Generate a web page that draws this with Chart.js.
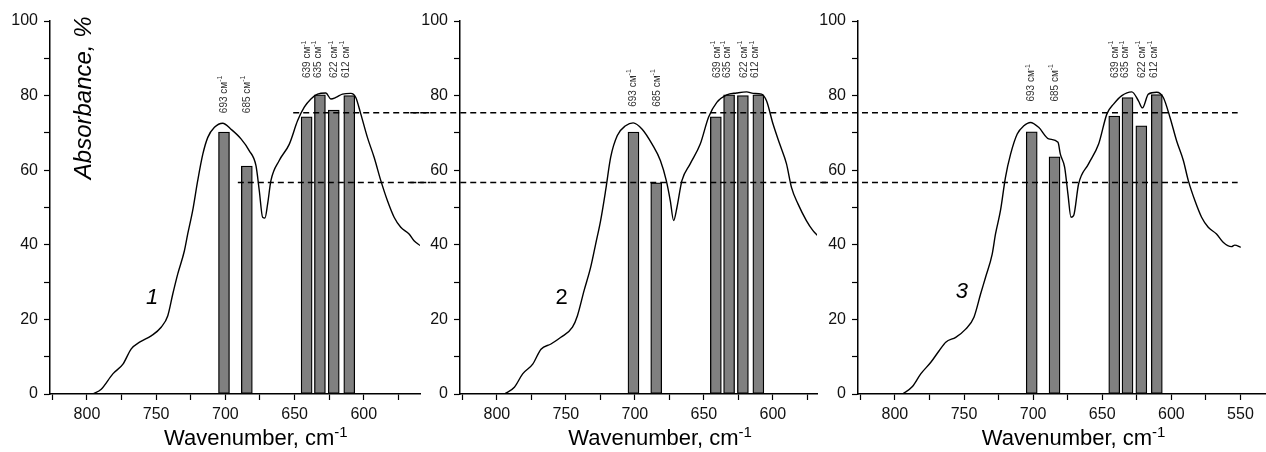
<!DOCTYPE html>
<html>
<head>
<meta charset="utf-8">
<script src="https://cdn.jsdelivr.net/npm/chart.js@4.4.1/dist/chart.umd.min.js"></script>
<style>
  body { margin: 0; background: #fff; }
  #wrap { position: relative; width: 1266px; height: 452px; overflow: hidden; }
  canvas { position: absolute; top: 0; }
</style>
</head>
<body>
<div id="wrap">
  <canvas id="c1" width="430" height="452" style="left:0"></canvas>
  <canvas id="c2" width="420" height="452" style="left:410px"></canvas>
  <canvas id="c3" width="446" height="452" style="left:820px"></canvas>
</div>
<script>
// spectra, wavenumber (cm-1) and absorbance (%)
const wn1 = [795.7, 789.7, 781.3, 774, 768, 762, 753.6, 746.4, 741.6, 738, 734.4, 729.6, 727.2, 723.6, 720, 716.3, 712.7, 707.9, 701.9, 696, 688.7, 682.7, 677.9, 675.5, 673.1, 671.4, 669.5, 667.1, 661.1, 653.8, 647.8, 643, 638.2, 633.4, 627.4, 623.8, 620.2, 615.4, 609.4, 605.8, 602.2, 597.4, 592.5, 587.7, 582.9, 578.1, 573.3, 567.3, 563.7, 559.4];
const abs1 = [0, 1.3, 5.4, 8.0, 12.1, 13.9, 15.6, 17.9, 21, 26.8, 32.2, 38.4, 42.9, 49.2, 57.2, 64.3, 68.8, 71.5, 72.6, 71.0, 68.4, 65.2, 61.2, 54.5, 47.4, 47.2, 50.9, 57.2, 62.6, 67.0, 73.3, 76.9, 79.1, 80.4, 80.7, 79.1, 79.5, 80.4, 80.6, 79.5, 75.1, 68.8, 63.4, 57.2, 51.8, 47.4, 44.7, 42.9, 41.1, 39.8];

const wn2 = [794.5, 787.3, 781.3, 774, 768, 760.8, 753.6, 745.2, 741.6, 736.8, 732, 728.4, 724.8, 721.2, 717.5, 712.7, 706.7, 701.2, 694.7, 687.5, 681.5, 677.2, 674.3, 671.9, 669.5, 665.9, 659.9, 652.6, 646.6, 640.6, 633.4, 626.2, 619, 614.2, 608.2, 604.6, 599.8, 595, 590.1, 586.5, 581.7, 575.7, 570.9, 567.3];
const abs2 = [0, 1.8, 5.4, 8, 12, 13.4, 15.2, 17.9, 21, 27.7, 34, 40.2, 46.5, 54.5, 63.5, 69.3, 71.9, 72.7, 71, 67, 62.6, 57.2, 51.8, 46.5, 50, 57.2, 61.7, 67, 74.2, 78.2, 80.2, 80.7, 81, 80.6, 80.4, 78.6, 72.3, 67, 61.7, 55.4, 50.9, 46.5, 43.8, 42.4];

const wn3 = [794.5, 787.3, 781.3, 774, 768, 763.2, 756, 748.8, 742.8, 738, 734.4, 729.6, 727.2, 723.6, 720, 716.3, 711.5, 706.7, 701.9, 696, 688.7, 682, 680.3, 677.2, 674.8, 672.6, 670.7, 667.1, 659.9, 652.6, 646.6, 641.8, 635.8, 628.6, 623.8, 620.9, 616.6, 610.6, 605.8, 601, 596.2, 591.3, 587.7, 582.9, 578.1, 573.3, 567.3, 562.5, 556.5, 554.1, 549.8];
const abs3 = [0, 2, 5.4, 8.5, 11.6, 13.9, 15.2, 17.4, 20.6, 26.8, 31.3, 37.5, 42.9, 49.2, 58.1, 64.3, 69.7, 71.9, 72.8, 71.5, 68.4, 67.5, 64.3, 60.8, 53.6, 47.4, 47.8, 56.3, 61.7, 67, 75.1, 77.7, 80, 81, 78.6, 76.7, 80.4, 80.9, 79.5, 74.2, 67.9, 62.6, 57.2, 51.8, 47.4, 44.7, 42.9, 40.7, 39.5, 39.9, 39.3];

// bars
const barPos = [701, 684.5, 641.3, 631.7, 621.7, 610.5];
const bars1 = [70.2, 61.1, 74.3, 80.2, 76.1, 80.0];
const bars2 = [70.2, 56.6, 74.3, 80.2, 80.0, 80.2];
const bars3 = [70.3, 63.6, 74.5, 79.5, 71.9, 80.3];

// peak labels
const peakNames = ['693', '685', '639', '635', '622', '612'];
const peakLabelPos = [701, 684, 640.5, 633, 621, 612.5];

// dashed reference levels
const levels = [75.4, 56.7];
const dashStart1 = [651, 691];

const xTickValues = [825, 800, 775, 750, 725, 700, 675, 650, 625, 600, 575, 550];
const yTickValues = [0, 10, 20, 30, 40, 50, 60, 70, 80, 90, 100];

const FONT = '"Liberation Sans", Arial, sans-serif';

const notesPlugin = {
  id: 'notes',
  afterDatasetsDraw(chart, args, opts) {
    const { ctx } = chart;
    const x = chart.scales.x, y = chart.scales.y;
    (opts.items || []).forEach(t => {
      ctx.save();
      ctx.translate(x.getPixelForValue(t.x), y.getPixelForValue(t.y));
      if (t.rotate) ctx.rotate(t.rotate);
      ctx.fillStyle = t.color || '#000';
      ctx.textBaseline = t.baseline || 'middle';
      ctx.textAlign = 'left';
      ctx.font = t.font;
      const w = ctx.measureText(t.text).width;
      let sw = 0;
      if (t.sup) {
        ctx.font = t.supFont;
        sw = ctx.measureText(t.sup).width;
      }
      const start = t.align === 'left' ? 0 : -(w + sw) / 2;
      ctx.font = t.font;
      ctx.fillText(t.text, start, 0);
      if (t.sup) {
        ctx.font = t.supFont;
        ctx.fillText(t.sup, start + w, -t.supRaise);
      }
      ctx.restore();
    });
  }
};

function pts(xs, ys) {
  return xs.map((v, i) => ({ x: v, y: ys[i] }));
}

function peakLabels(lowY, highY) {
  return peakNames.map((n, i) => ({
    x: peakLabelPos[i], y: i < 2 ? lowY : highY,
    text: n + ' см', sup: '-1',
    font: '10px ' + FONT, supFont: '7px ' + FONT, supRaise: 4,
    align: 'left', rotate: -Math.PI / 2, color: '#333'
  }));
}

function makePanel(id, o) {
  const dashSets = levels.map((lv, i) => ({
    type: 'line',
    data: [{ x: o.dashFrom[i], y: lv }, { x: o.dashTo, y: lv }],
    borderColor: '#000', borderWidth: 1.4, borderDash: [6, 4],
    pointRadius: 0, clip: false, order: 0
  }));

  new Chart(document.getElementById(id), {
    type: 'line',
    data: {
      datasets: [
        ...dashSets,
        {
          type: 'line', data: pts(o.wn, o.abs),
          borderColor: '#000', borderWidth: 1.4, pointRadius: 0,
          cubicInterpolationMode: 'monotone', order: 1
        },
        {
          type: 'bar', data: pts(barPos, o.bars),
          backgroundColor: '#808080', borderColor: '#000', borderWidth: 1.3,
          borderSkipped: false, barThickness: 11, order: 2
        }
      ]
    },
    options: {
      responsive: false,
      animation: false,
      events: [],
      layout: { padding: { top: 21, right: o.padRight, left: 0, bottom: 0 } },
      scales: {
        x: {
          type: 'linear', reverse: true, min: o.xMin, max: 826.7, offset: false,
          afterBuildTicks: s => {
            s.ticks = xTickValues.filter(v => v >= s.min && v <= s.max).map(v => ({ value: v }));
          },
          afterFit: s => { s.height = 58; },
          ticks: {
            autoSkip: false, maxRotation: 0, padding: 5, color: '#111',
            font: { family: FONT, size: 16 },
            callback: v => (v % 50 === 0 ? v : '')
          },
          grid: { drawOnChartArea: false, offset: false, color: '#000', tickLength: 6, tickWidth: 1.2 },
          border: { color: '#000', width: 1.5 }
        },
        y: {
          min: 0, max: 100,
          afterBuildTicks: s => { s.ticks = yTickValues.map(v => ({ value: v })); },
          afterFit: s => { s.width = o.yWidth; },
          ticks: {
            autoSkip: false, padding: 6, color: '#111',
            font: { family: FONT, size: 16 },
            callback: v => (v % 20 === 0 ? v : '')
          },
          grid: { drawOnChartArea: false, color: '#000', tickLength: 6, tickWidth: 1.2 },
          border: { color: '#000', width: 1.5 }
        }
      },
      plugins: {
        legend: { display: false },
        tooltip: { enabled: false },
        notes: { items: o.notes }
      }
    },
    plugins: [notesPlugin]
  });
}

const titleFont = '22px ' + FONT;
function xTitle(x) {
  return { x: x, y: -13.8, text: 'Wavenumber, cm', sup: '-1', font: titleFont,
           supFont: '15px ' + FONT, supRaise: 8, baseline: 'alphabetic', color: '#000' };
}

makePanel('c1', {
  wn: wn1, abs: abs1, bars: bars1, xMin: 559.4, padRight: 10, yWidth: 50,
  dashFrom: dashStart1, dashTo: 540,
  notes: [
    { x: 802.2, y: 79.4, text: 'Absorbance, %', font: 'italic 24px ' + FONT, rotate: -Math.PI / 2 },
    { x: 753, y: 25.7, text: '1', font: 'italic 22px ' + FONT },
    xTitle(678),
    ...peakLabels(75.3, 84.7)
  ]
});

makePanel('c2', {
  wn: wn2, abs: abs2, bars: bars2, xMin: 568, padRight: 13, yWidth: 50,
  dashFrom: [870, 870], dashTo: 540,
  notes: [
    { x: 753, y: 25.7, text: '2', font: '22px ' + FONT },
    xTitle(681.7),
    ...peakLabels(77, 84.7)
  ]
});

makePanel('c3', {
  wn: wn3, abs: abs3, bars: bars3, xMin: 531.5, padRight: 0, yWidth: 38,
  dashFrom: [860, 860], dashTo: 552,
  notes: [
    { x: 751.6, y: 27.3, text: '3', font: 'italic 22px ' + FONT },
    xTitle(670.7),
    ...peakLabels(78.4, 84.7)
  ]
});
</script>
</body>
</html>
